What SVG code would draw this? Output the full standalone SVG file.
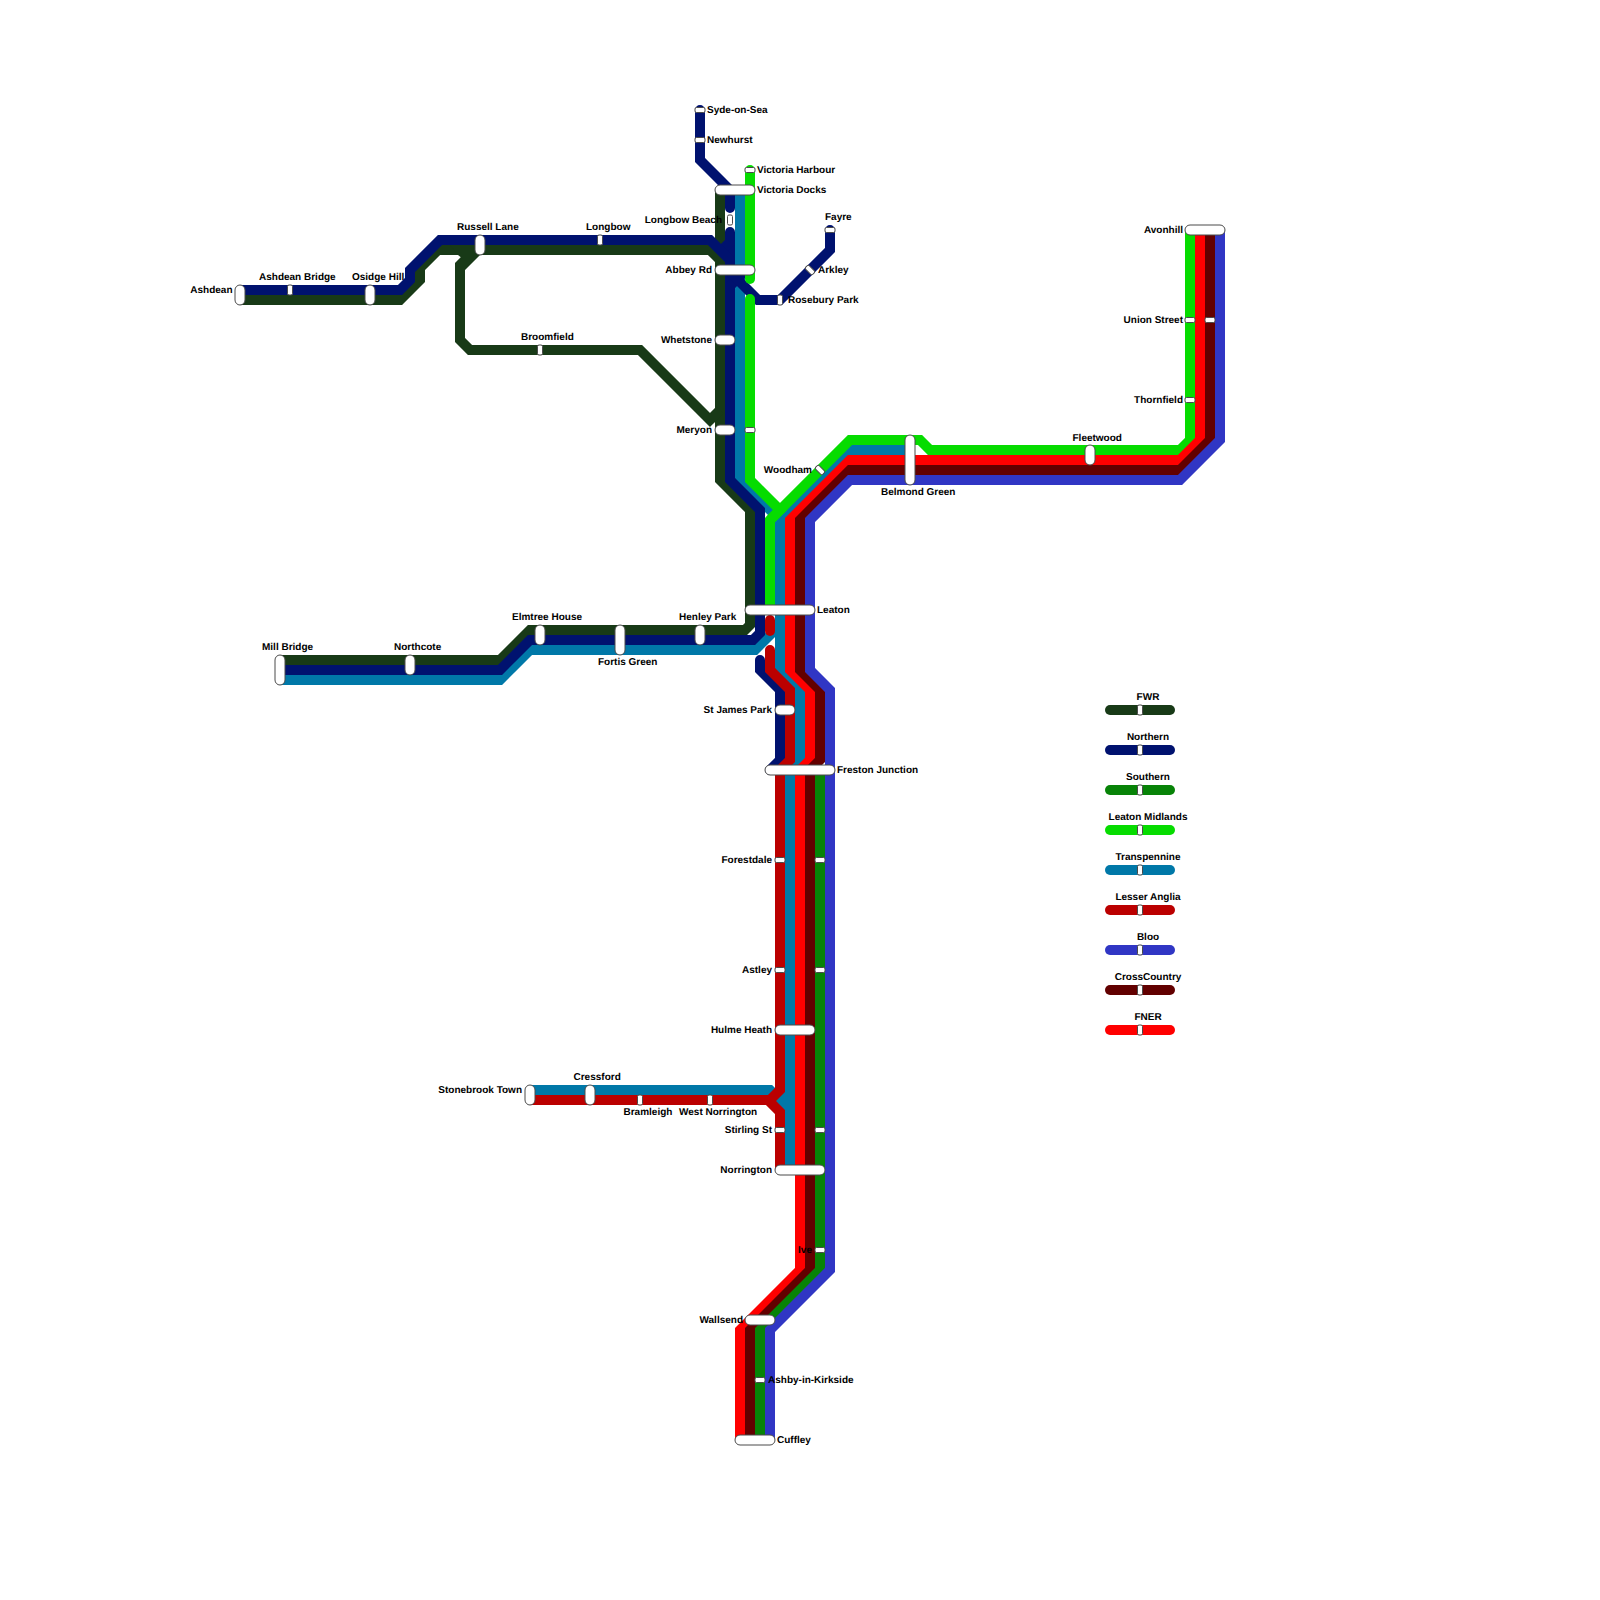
<svg xmlns="http://www.w3.org/2000/svg" width="1600" height="1600" viewBox="0 0 1600 1600">
<style>
.l{fill:none;stroke-width:10;stroke-linejoin:miter;stroke-miterlimit:10}
.c{stroke-linecap:round}
.fwr{stroke:#183a17}.nor{stroke:#00126f}.sou{stroke:#078307}.lm{stroke:#06dc00}.tp{stroke:#0078a8}.la{stroke:#bb0000}.blo{stroke:#3036c4}.cc{stroke:#620000}.fn{stroke:#ff0000}
.s{fill:#fff;stroke:#4a4a4a;stroke-width:1}
text{font-family:"Liberation Sans",Arial,sans-serif;font-size:10px;font-weight:bold;fill:#000;text-rendering:geometricPrecision}
.e{text-anchor:end}.m{text-anchor:middle}
</style>
<rect width="1600" height="1600" fill="#fff"/>
<g id="connectors">
<g id="line-fwr">
<path class="l fwr" d="M240,300H400L420,280V268L438,250H710L720,260"/>
<path class="l fwr" d="M720,190V480L750,510V625L745,630H530L500,660H280"/>
<path class="l fwr" d="M475,250L460,265V340L470,350H640L710,420L720,410"/>
<polygon points="450,245 480,245 480,255 465,270 455,270 455,267 463,259 458,255" fill="#183a17"/>
</g>
<g id="line-tp">
<path class="l tp" d="M740,190V480L780,520"/>
<path class="l tp" d="M910,450H850L780,520V670L800,690V760L790,770V1170"/>
<path class="l tp" d="M775,630L755,650H530L500,680H280"/>
<path class="l tp" d="M530,1090H770L790,1110"/>
<path class="l tp" d="M775,1092H790M780,1100H790"/>
</g>
<g id="line-northern">
<path class="l nor c" d="M700,110V160L730,190V208"/>
<path class="l nor c" d="M730,232V480L760,510V633L753,640H530L500,670H280"/>
<path class="l nor" d="M730,242L721,251"/>
<path class="l nor" d="M240,290H400L410,280V270L440,240H710L730,260V280"/>
<path class="l nor" d="M730,286L745,271"/>
<path class="l nor c" d="M730,272L758,300H780L830,250V230"/>
<path class="l nor c" d="M760,660V670L780,690V760L770,770"/>
</g>
<g id="line-lm">
<path class="l lm c" d="M750,170V279"/>
<path class="l lm c" d="M750,299V480L780,510L770,520V605"/>
<path class="l lm" d="M770,520L850,440H920L930,450H1180L1190,440V230"/>
</g>
<g id="line-la">
<path class="l la c" d="M770,620V631"/>
<path class="l la c" d="M770,650V670L790,690V760L780,770V1090L770,1100"/>
<path class="l la" d="M530,1100H768L780,1112V1170"/>
</g>
<g id="line-fner">
<path class="l fn" d="M1200,230V440L1180,460H850L790,520V670L810,690V760L800,770V1270L740,1330V1440"/>
</g>
<g id="line-cc">
<path class="l cc" d="M1210,230V440L1180,470H850L800,520V670L820,690V760L810,770V1270L750,1330V1440"/>
</g>
<g id="line-southern">
<path class="l sou" d="M820,770V1270L760,1330V1440"/>
</g>
<g id="line-bloo">
<path class="l blo" d="M1220,230V440L1180,480H850L810,520V670L830,690V1270L770,1330V1440"/>
</g>
</g>
<g id="stations">
<g id="ashdean"><rect class="s" x="235" y="285" width="10" height="20" rx="5"/><text class="e" x="232.500" y="292.500">Ashdean</text></g>
<g id="ashdean-bridge"><rect class="s" x="287.500" y="285" width="5" height="10" rx="1.500"/><text x="259" y="279.500">Ashdean Bridge</text></g>
<g id="osidge-hill"><rect class="s" x="365" y="285" width="10" height="20" rx="5"/><text x="352" y="279.500">Osidge Hill</text></g>
<g id="russell-lane"><rect class="s" x="475" y="235" width="10" height="20" rx="5"/><text x="457" y="229.500">Russell Lane</text></g>
<g id="longbow"><rect class="s" x="597.500" y="235" width="5" height="10" rx="1.500"/><text x="586" y="229.500">Longbow</text></g>
<g id="broomfield"><rect class="s" x="537.500" y="345" width="5" height="10" rx="1.500"/><text x="521" y="339.500">Broomfield</text></g>
<g id="syde-on-sea"><rect class="s" x="695" y="107.500" width="10" height="5" rx="1.500"/><text x="707" y="112.500">Syde-on-Sea</text></g>
<g id="newhurst"><rect class="s" x="695" y="137.500" width="10" height="5" rx="1.500"/><text x="707" y="142.500">Newhurst</text></g>
<g id="victoria-harbour"><rect class="s" x="745" y="167.500" width="10" height="5" rx="1.500"/><text x="757" y="172.500">Victoria Harbour</text></g>
<g id="victoria-docks"><rect class="s" x="715" y="185" width="40" height="10" rx="5"/><text x="757" y="192.500">Victoria Docks</text></g>
<g id="longbow-beach"><rect class="s" x="727.500" y="215" width="5" height="10" rx="1.500"/><text class="e" x="722" y="222.500">Longbow Beach</text></g>
<g id="abbey-rd"><rect class="s" x="715" y="265" width="40" height="10" rx="5"/><text class="e" x="712" y="272.500">Abbey Rd</text></g>
<g id="arkley"><rect class="s" x="805" y="267.500" width="10" height="5" rx="1.500" transform="rotate(45 810 270)"/><text x="818" y="272.500">Arkley</text></g>
<g id="rosebury-park"><rect class="s" x="777.500" y="295" width="5" height="10" rx="1.500"/><text x="788" y="302.500">Rosebury Park</text></g>
<g id="fayre"><rect class="s" x="825" y="227.500" width="10" height="5" rx="1.500"/><text x="825" y="219.500">Fayre</text></g>
<g id="whetstone"><rect class="s" x="715" y="335" width="20" height="10" rx="5"/><text class="e" x="712" y="342.500">Whetstone</text></g>
<g id="meryon"><rect class="s" x="715" y="425" width="20" height="10" rx="5"/><rect class="s" x="745" y="427.500" width="10" height="5" rx="1.500"/><text class="e" x="712" y="432.500">Meryon</text></g>
<g id="woodham"><rect class="s" x="815" y="467.500" width="10" height="5" rx="1.500" transform="rotate(45 820 470)"/><text class="e" x="812" y="472.500">Woodham</text></g>
<g id="belmond-green"><rect class="s" x="905" y="435" width="10" height="50" rx="5"/><text x="881" y="494.500">Belmond Green</text></g>
<g id="fleetwood"><rect class="s" x="1085" y="445" width="10" height="20" rx="5"/><text x="1072.500" y="440.500">Fleetwood</text></g>
<g id="avonhill"><rect class="s" x="1185" y="225" width="40" height="10" rx="5"/><text class="e" x="1183" y="232.500">Avonhill</text></g>
<g id="union-street"><rect class="s" x="1185" y="317.500" width="10" height="5" rx="1.500"/><rect class="s" x="1205" y="317.500" width="10" height="5" rx="1.500"/><text class="e" x="1183" y="322.500">Union Street</text></g>
<g id="thornfield"><rect class="s" x="1185" y="397.500" width="10" height="5" rx="1.500"/><text class="e" x="1183" y="402.500">Thornfield</text></g>
<g id="leaton"><rect class="s" x="745" y="605" width="70" height="10" rx="5"/><text x="817" y="612.500">Leaton</text></g>
<g id="henley-park"><rect class="s" x="695" y="625" width="10" height="20" rx="5"/><text x="679" y="619.500">Henley Park</text></g>
<g id="fortis-green"><rect class="s" x="615" y="625" width="10" height="30" rx="5"/><text x="598" y="664.500">Fortis Green</text></g>
<g id="elmtree-house"><rect class="s" x="535" y="625" width="10" height="20" rx="5"/><text x="512" y="619.500">Elmtree House</text></g>
<g id="northcote"><rect class="s" x="405" y="655" width="10" height="20" rx="5"/><text x="394" y="649.500">Northcote</text></g>
<g id="mill-bridge"><rect class="s" x="275" y="655" width="10" height="30" rx="5"/><text x="262" y="649.500">Mill Bridge</text></g>
<g id="st-james-park"><rect class="s" x="775" y="705" width="20" height="10" rx="5"/><text class="e" x="772" y="712.500">St James Park</text></g>
<g id="freston-junction"><rect class="s" x="765" y="765" width="70" height="10" rx="5"/><text x="837" y="772.500">Freston Junction</text></g>
<g id="forestdale"><rect class="s" x="775" y="857.500" width="10" height="5" rx="1.500"/><rect class="s" x="815" y="857.500" width="10" height="5" rx="1.500"/><text class="e" x="772" y="862.500">Forestdale</text></g>
<g id="astley"><rect class="s" x="775" y="967.500" width="10" height="5" rx="1.500"/><rect class="s" x="815" y="967.500" width="10" height="5" rx="1.500"/><text class="e" x="772" y="972.500">Astley</text></g>
<g id="hulme-heath"><rect class="s" x="775" y="1025" width="40" height="10" rx="5"/><text class="e" x="772" y="1032.500">Hulme Heath</text></g>
<g id="stirling-st"><rect class="s" x="775" y="1127.500" width="10" height="5" rx="1.500"/><rect class="s" x="815" y="1127.500" width="10" height="5" rx="1.500"/><text class="e" x="772" y="1132.500">Stirling St</text></g>
<g id="norrington"><rect class="s" x="775" y="1165" width="50" height="10" rx="5"/><text class="e" x="772" y="1172.500">Norrington</text></g>
<g id="stonebrook-town"><rect class="s" x="525" y="1085" width="10" height="20" rx="5"/><text class="e" x="522" y="1092.500">Stonebrook Town</text></g>
<g id="cressford"><rect class="s" x="585" y="1085" width="10" height="20" rx="5"/><text x="573.500" y="1079.500">Cressford</text></g>
<g id="bramleigh"><rect class="s" x="637.500" y="1095" width="5" height="10" rx="1.500"/><text x="623.500" y="1114.500">Bramleigh</text></g>
<g id="west-norrington"><rect class="s" x="707.500" y="1095" width="5" height="10" rx="1.500"/><text x="679" y="1114.500">West Norrington</text></g>
<g id="ive"><rect class="s" x="815" y="1247.500" width="10" height="5" rx="1.500"/><text class="e" x="812" y="1252.500">Ive</text></g>
<g id="wallsend"><rect class="s" x="745" y="1315" width="30" height="10" rx="5"/><text class="e" x="743" y="1322.500">Wallsend</text></g>
<g id="ashby-in-kirkside"><rect class="s" x="755" y="1377.500" width="10" height="5" rx="1.500"/><text x="768" y="1382.500">Ashby-in-Kirkside</text></g>
<g id="cuffley"><rect class="s" x="735" y="1435" width="40" height="10" rx="5"/><text x="777" y="1442.500">Cuffley</text></g>
</g>
<g id="legend">
<g id="key-fwr"><path class="l c fwr" d="M1110,710H1170"/><rect class="s" x="1137.500" y="705" width="5" height="10" rx="1.500"/><text class="m" x="1148" y="699.500">FWR</text></g>
<g id="key-northern"><path class="l c nor" d="M1110,750H1170"/><rect class="s" x="1137.500" y="745" width="5" height="10" rx="1.500"/><text class="m" x="1148" y="739.500">Northern</text></g>
<g id="key-southern"><path class="l c sou" d="M1110,790H1170"/><rect class="s" x="1137.500" y="785" width="5" height="10" rx="1.500"/><text class="m" x="1148" y="779.500">Southern</text></g>
<g id="key-lm"><path class="l c lm" d="M1110,830H1170"/><rect class="s" x="1137.500" y="825" width="5" height="10" rx="1.500"/><text class="m" x="1148" y="819.500">Leaton Midlands</text></g>
<g id="key-tp"><path class="l c tp" d="M1110,870H1170"/><rect class="s" x="1137.500" y="865" width="5" height="10" rx="1.500"/><text class="m" x="1148" y="859.500">Transpennine</text></g>
<g id="key-la"><path class="l c la" d="M1110,910H1170"/><rect class="s" x="1137.500" y="905" width="5" height="10" rx="1.500"/><text class="m" x="1148" y="899.500">Lesser Anglia</text></g>
<g id="key-bloo"><path class="l c blo" d="M1110,950H1170"/><rect class="s" x="1137.500" y="945" width="5" height="10" rx="1.500"/><text class="m" x="1148" y="939.500">Bloo</text></g>
<g id="key-cc"><path class="l c cc" d="M1110,990H1170"/><rect class="s" x="1137.500" y="985" width="5" height="10" rx="1.500"/><text class="m" x="1148" y="979.500">CrossCountry</text></g>
<g id="key-fner"><path class="l c fn" d="M1110,1030H1170"/><rect class="s" x="1137.500" y="1025" width="5" height="10" rx="1.500"/><text class="m" x="1148" y="1019.500">FNER</text></g>
</g>
</svg>
